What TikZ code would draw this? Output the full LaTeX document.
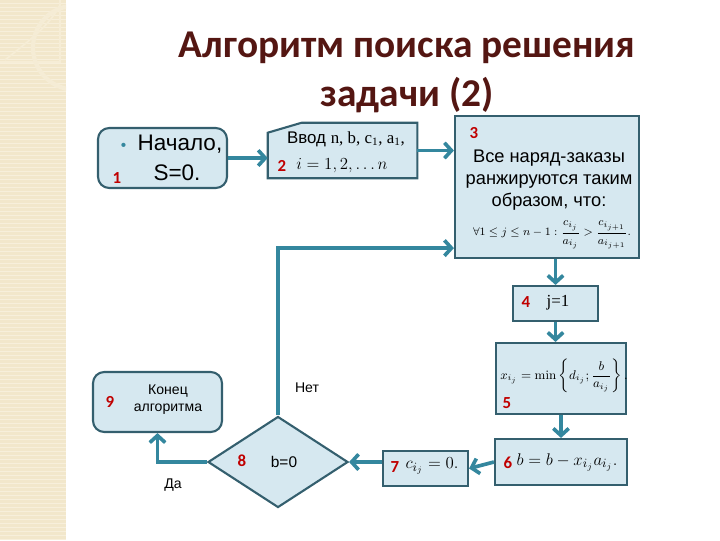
\documentclass[tikz,border=0pt]{standalone}
\usepackage[no-math]{fontspec}
\setmainfont{Liberation Sans}
\newfontfamily\titlefont{Carlito}
\newfontfamily\serif{Liberation Serif}
\usetikzlibrary{shapes.geometric,arrows.meta,calc}

\definecolor{boxfill}{RGB}{214,232,240}
\definecolor{boxline}{RGB}{52,95,110}
\definecolor{arrowc}{RGB}{52,135,158}
\definecolor{numred}{RGB}{192,0,0}
\definecolor{titlec}{RGB}{84,22,18}
\definecolor{band}{RGB}{242,231,203}
\definecolor{bandline}{RGB}{247,239,219}

\tikzset{
  block/.style={draw=boxline, fill=boxfill, line width=1.5pt, inner sep=0pt},
  arr/.style={draw=arrowc, line width=2.6pt, -{Straight Barb[length=5pt,width=11pt]}},
  num/.style={text=numred, font=\titlefont\bfseries\fontsize{12}{14}\selectfont},
  txt/.style={font=\fontsize{10}{12}\selectfont},
}

\begin{document}
\begin{tikzpicture}[x=0.025cm,y=-0.025cm]
      \useasboundingbox (0,0) rectangle (720,540);

      % Left band
      \fill[band] (0,0) rectangle (66,540);
      \foreach \y in {3,7,...,540}
        \draw[bandline, line width=0.4pt] (0,\y) -- (66,\y);
      \begin{scope}
        \clip (0,0) rectangle (66,540);
        \draw[bandline!70!band, line width=1pt] (0,62) -- (60,62) -- (60,0);
        \draw[bandline!70!band, line width=1.2pt] (5,60) .. controls (30,40) and (50,25) .. (60,5);
        \draw[bandline!60!band, line width=3pt] (96,84) arc (60:300:42);
      \end{scope}

      % Title
      \node[text=titlec, font=\titlefont\bfseries\fontsize{28}{34}\selectfont] (title1) at (407,48) {Алгоритм поиска решения};
      \node[text=titlec, font=\titlefont\bfseries\fontsize{28}{34}\selectfont] (title2) at (407,95) {задачи (2)};

      % Blocks
      \node[block, rounded corners=8pt, minimum width=3.225cm, minimum height=1.5cm] (b1) at (162.5,158) {};
      \node[font=\fontsize{16}{19}\selectfont, anchor=west] (b1a) at (116,144) {\textcolor{arrowc}{\fontsize{11}{11}\selectfont•}\hspace{0.5em}Начало,};
      \node[font=\fontsize{16}{19}\selectfont] (b1b) at (177,173) {S=0.};
      \node[num] (n1) at (117,178) {1};

      \node[minimum width=3.725cm, minimum height=1.375cm, inner sep=0pt] (b2) at (342.5,150.5) {};
      \filldraw[draw=boxline, fill=boxfill, line width=1.5pt]
        (b2.south west) -- ($(b2.north west)+(0,10)$) -- ($(b2.north west)+(34,0)$)
        -- (b2.north east) -- (b2.south east) -- cycle;
      \node[font=\fontsize{12}{14}\selectfont] (b2a) at (346,139) {Ввод {\serif n, b, c\textsubscript{1}, a\textsubscript{1},}};
      \node[font=\fontsize{12}{14}\selectfont] (b2b) at (342,166) {$i=1,2,\ldots n$};
      \node[num] (n2) at (282,166) {2};

      \node[block, minimum width=4.6cm, minimum height=3.55cm] (b3) at (547,187) {};
      \node[num] (n3) at (474,133) {3};
      \node[font=\fontsize{13}{15.6}\selectfont, align=center] (b3a) at (549,180) {Все наряд-заказы\\ранжируются таким\\образом, что:};
      \node[font=\fontsize{8.5}{10}\selectfont] (b3b) at (552,235) {$\displaystyle \forall 1\le j\le n-1:\frac{c_{i_j}}{a_{i_j}}>\frac{c_{i_{j+1}}}{a_{i_{j+1}}}.$};

      \node[block, minimum width=2.125cm, minimum height=0.875cm] (b4) at (555.5,303.5) {};
      \node[num] (n4) at (526,302) {4};
      \node[font=\serif\fontsize{12}{14}\selectfont] (b4a) at (558,303) {j=1};

      \node[block, minimum width=3.25cm, minimum height=1.775cm] (b5) at (561,378.5) {};
      \node[font=\fontsize{9}{11}\selectfont] (b5a) at (564,376) {$\displaystyle x_{i_j}=\min\left\{d_{i_j};\frac{b}{a_{i_j}}\right\}.$};
      \node[num] (n5) at (507,403) {5};

      \node[block, minimum width=3.3cm, minimum height=1.15cm] (b6) at (561,462) {};
      \node[num] (n6) at (508,463) {6};
      \node[font=\fontsize{13}{15}\selectfont] (b6a) at (567,462) {$b=b-x_{i_j}a_{i_j}.$};

      \node[block, minimum width=2.125cm, minimum height=0.875cm] (b7) at (425.5,468.5) {};
      \node[num] (n7) at (395,467) {7};
      \node[font=\fontsize{13}{15}\selectfont] (b7a) at (432,466) {$c_{i_j}=0.$};

      \node[block, diamond, minimum width=3.5cm, minimum height=2.275cm] (d8) at (278,462) {};
      \node[num] (n8) at (242,461) {8};
      \node[font=\fontsize{11}{13}\selectfont] (d8a) at (284,462) {b=0};

      \node[block, rounded corners=8pt, minimum width=3.225cm, minimum height=1.5cm] (b9) at (157.5,402) {};
      \node[num] (n9) at (110,402) {9};
      \node[txt, align=center] (b9a) at (168,400) {Конец\\алгоритма};

      % Connectors
      \draw[arr] (b1.east) -- (b1.east -| b2.west);
      \draw[arr] (b2.east) -- (b2.east -| b3.west);
      \draw[arr] (b3.south -| b4) -- (b4.north);
      \draw[arr] (b4.south) -- (b4.south |- b5.north);
      \draw[arr] (b5.south) -- (b6.north);
      \draw[arr] (b6.west) -- (b7.east);
      \draw[arr] (b7.west |- d8.east) -- (d8.east);
      \draw[arr] (d8.north) |- ($(b3.south west)+(0,-11)$);
      \draw[arr] (d8.west) -| (b9.south);

      \node[txt] (no) at (307,388) {Нет};
      \node[txt] (yes) at (173,485) {Да};
\end{tikzpicture}
\end{document}
